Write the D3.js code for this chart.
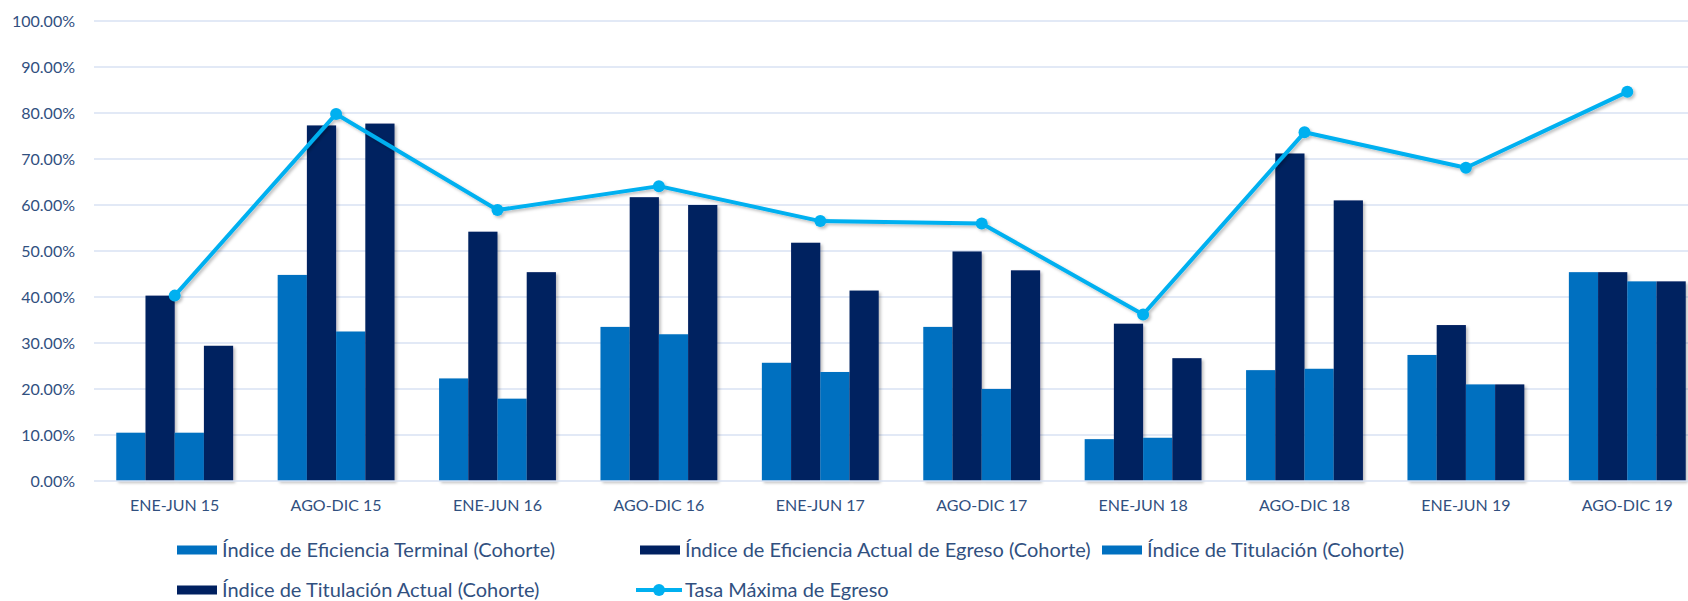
<!DOCTYPE html>
<html lang="es">
<head>
<meta charset="utf-8" />
<title>Eficiencia terminal y titulación</title>
<style>
  html, body { margin: 0; padding: 0; background: #fff; }
  svg { display: block; font-family: Lato, "Open Sans", sans-serif; }
</style>
</head>
<body>
<div id="chart"></div>
<script src="https://d3js.org/d3.v7.min.js"></script>
<script type="text/javascript">
// data (percent)
var periodos = ["ENE-JUN 15","AGO-DIC 15","ENE-JUN 16","AGO-DIC 16","ENE-JUN 17",
                "AGO-DIC 17","ENE-JUN 18","AGO-DIC 18","ENE-JUN 19","AGO-DIC 19"];
var eficienciaTerminal = [10.5, 44.8, 22.3, 33.5, 25.7, 33.5,  9.1, 24.1, 27.4, 45.4];
var eficienciaActual   = [40.3, 77.3, 54.2, 61.7, 51.8, 49.9, 34.2, 71.2, 33.9, 45.4];
var titulacion         = [10.5, 32.5, 17.9, 31.9, 23.7, 20.0,  9.4, 24.4, 21.0, 43.4];
var titulacionActual   = [29.4, 77.7, 45.4, 60.0, 41.4, 45.8, 26.7, 61.0, 21.0, 43.4];
var tasaMaxima         = [40.3, 79.8, 58.9, 64.1, 56.5, 56.0, 36.2, 75.8, 68.1, 84.6];
var yTicks = [0, 10, 20, 30, 40, 50, 60, 70, 80, 90, 100];

var series = [
  {name: "Índice de Eficiencia Terminal (Cohorte)", values: eficienciaTerminal, color: "#0070C0"},
  {name: "Índice de Eficiencia Actual de Egreso (Cohorte)", values: eficienciaActual, color: "#002060"},
  {name: "Índice de Titulación (Cohorte)", values: titulacion, color: "#0070C0"},
  {name: "Índice de Titulación Actual (Cohorte)", values: titulacionActual, color: "#002060"}
];
var lineName = "Tasa Máxima de Egreso";
var lineColor = "#00B0F0";
var textColor = "#31507f";

var W = 1688, H = 601;
var plotL = 94, plotR = 1708, plotT = 21, plotB = 481;

var svg = d3.select("#chart").append("svg")
    .attr("width", W)
    .attr("height", H);

var defs = svg.append("defs");
var shadow = defs.append("filter").attr("id", "shadow")
    .attr("x", "-20%").attr("y", "-20%").attr("width", "140%").attr("height", "140%");
shadow.append("feDropShadow")
    .attr("dx", 2).attr("dy", 2).attr("stdDeviation", 1.5)
    .attr("flood-color", "#000").attr("flood-opacity", 0.25);

svg.append("rect").attr("width", W).attr("height", H).attr("fill", "#fff");

var x = d3.scaleBand().domain(periodos).range([plotL, plotR])
    .paddingInner(0.276).paddingOuter(0.138);
var xs = d3.scaleBand().domain(d3.range(series.length)).range([0, x.bandwidth()]);
var y = d3.scaleLinear().domain([0, 100]).range([plotB, plotT]);

// gridlines
svg.append("g").selectAll("line").data(yTicks.filter(function(d){ return d > 0; }))
  .join("line")
    .attr("x1", plotL).attr("x2", W)
    .attr("y1", function(d){ return y(d); }).attr("y2", function(d){ return y(d); })
    .attr("stroke", "#D9E2F3").attr("stroke-width", 1.3);

// y axis labels
var yAxis = d3.axisLeft(y).tickValues(yTicks).tickSize(0).tickPadding(19)
    .tickFormat(function(d){ return d.toFixed(2) + "%"; });
var gy = svg.append("g").attr("transform", "translate(" + plotL + ",0)").call(yAxis);
gy.select(".domain").remove();
gy.selectAll("text").attr("font-size", 16).attr("fill", textColor)
    .attr("font-family", "Lato, sans-serif");

// bars
var groups = svg.append("g").attr("filter", "url(#shadow)");
series.forEach(function(s, i){
  groups.append("g").selectAll("rect").data(s.values)
    .join("rect")
      .attr("x", function(d, j){ return x(periodos[j]) + xs(i); })
      .attr("y", function(d){ return y(d); })
      .attr("width", xs.bandwidth())
      .attr("height", function(d){ return y(0) - y(d); })
      .attr("fill", s.color);
});

// x axis
var xAxis = d3.axisBottom(x).tickSize(0).tickPadding(19);
var gx = svg.append("g").attr("transform", "translate(0," + plotB + ")").call(xAxis);
gx.select(".domain").attr("d", "M" + plotL + ",0H" + W).attr("stroke", "#D9E2F3").attr("stroke-width", 1.6);
gx.selectAll("text").attr("font-size", 16).attr("fill", textColor)
    .attr("font-family", "Lato, sans-serif");

// line
var cx = function(d, j){ return x(periodos[j]) + x.bandwidth() / 2; };
var lg = svg.append("g").attr("filter", "url(#shadow)");
lg.append("path").datum(tasaMaxima)
    .attr("d", d3.line().x(cx).y(function(d){ return y(d); }))
    .attr("fill", "none").attr("stroke", lineColor).attr("stroke-width", 4)
    .attr("stroke-linejoin", "round");
lg.selectAll("circle").data(tasaMaxima).join("circle")
    .attr("cx", cx).attr("cy", function(d){ return y(d); })
    .attr("r", 6).attr("fill", lineColor);

// legend
var legendPos = [[177, 550], [640, 550], [1102, 550], [177, 590]];
var legendSize = 20;
var leg = svg.append("g");
series.forEach(function(s, i){
  var p = legendPos[i];
  leg.append("rect").attr("x", p[0]).attr("y", p[1] - 4.5)
     .attr("width", 40).attr("height", 9).attr("fill", s.color);
  leg.append("text").attr("x", p[0] + 45).attr("y", p[1])
     .attr("dy", "0.35em").attr("font-size", legendSize).attr("fill", textColor)
     .text(s.name);
});
leg.append("line").attr("x1", 636).attr("x2", 682).attr("y1", 590).attr("y2", 590)
   .attr("stroke", lineColor).attr("stroke-width", 4);
leg.append("circle").attr("cx", 659).attr("cy", 590).attr("r", 6).attr("fill", lineColor);
leg.append("text").attr("x", 685).attr("y", 590).attr("dy", "0.35em")
   .attr("font-size", legendSize).attr("fill", textColor).text(lineName);
</script>
</body>
</html>
